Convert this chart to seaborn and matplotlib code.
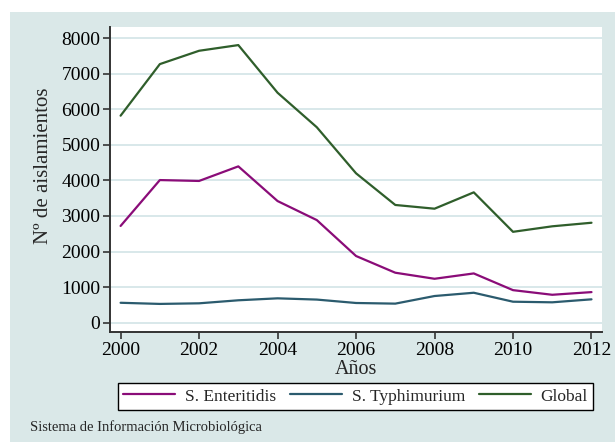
import matplotlib
matplotlib.use("Agg")
import matplotlib.pyplot as plt
import seaborn as sns
import pandas as pd
from matplotlib.patches import Rectangle
from matplotlib.lines import Line2D

years = [2000, 2001, 2002, 2003, 2004, 2005, 2006, 2007, 2008, 2009, 2010, 2011, 2012]
enteritidis = [2720, 4010, 3985, 4395, 3420, 2885, 1875, 1405, 1235, 1385, 915, 785, 860]
typhimurium = [560, 528, 545, 630, 685, 650, 554, 536, 750, 842, 590, 573, 657]
global_ = [5820, 7270, 7645, 7805, 6465, 5495, 4200, 3310, 3205, 3665, 2555, 2710, 2810]
series_names = ["S. Enteritidis", "S. Typhimurium", "Global"]
colors = ["#8A0C78", "#2B5B6E", "#2F5E2B"]
yticks = [0, 1000, 2000, 3000, 4000, 5000, 6000, 7000, 8000]
xticks = [2000, 2002, 2004, 2006, 2008, 2010, 2012]

df = pd.DataFrame({
    "year": years * 3,
    "value": enteritidis + typhimurium + global_,
    "serie": [series_names[0]] * 13 + [series_names[1]] * 13 + [series_names[2]] * 13,
})

sns.set_style("white")
plt.rcParams["font.family"] = ["Liberation Serif", "DejaVu Serif"]

W, H = 615, 447
fig = plt.figure(figsize=(W / 100, H / 100), dpi=100, facecolor="white")
panel = Rectangle((10 / W, 1 - 442 / H), (W - 10) / W, (442 - 12) / H,
                  transform=fig.transFigure, facecolor="#DAE8E8",
                  edgecolor="none", zorder=-10)
fig.patches.append(panel)

ax_left, ax_right, ax_top, ax_bot = 110, 601.7, 27.3, 332.3
ax = fig.add_axes([ax_left / W, 1 - ax_bot / H, (ax_right - ax_left) / W, (ax_bot - ax_top) / H])
ax.set_zorder(1)
ax.set_facecolor("white")

sns.lineplot(data=df, x="year", y="value", hue="serie", hue_order=series_names,
             palette=colors, linewidth=1.6, ax=ax, legend=False)

ax.set_xlim(1999.73, 2012.26)
ax.set_ylim(-270, 8305)
ax.set_xticks(xticks)
ax.set_yticks(yticks)
ax.set_xticklabels([str(x) for x in xticks], fontsize=14)
ax.set_yticklabels([str(y) for y in yticks], fontsize=14)
ax.yaxis.grid(True, color="#D5E6E8", linewidth=1.3)
ax.xaxis.grid(False)
ax.set_axisbelow(True)
for s in ["top", "right"]:
    ax.spines[s].set_visible(False)
for s in ["left", "bottom"]:
    ax.spines[s].set_color("#333333")
    ax.spines[s].set_linewidth(1.4)
ax.tick_params(axis="both", direction="out", length=5, width=1.2, color="#333333",
               labelcolor="black")
ax.tick_params(axis="x", bottom=True, pad=2)
ax.tick_params(axis="y", left=True, pad=2)
ax.set_xlabel("Años", fontsize=14.5)
ax.xaxis.set_label_coords(((2006 - 1999.73) / (2012.26 - 1999.73)),
                          (ax_bot - 360.5) / (ax_bot - ax_top))
ax.set_ylabel("Nº de aislamientos", fontsize=15)
ax.yaxis.set_label_coords((53 - ax_left) / (ax_right - ax_left),
                          (ax_bot - 166) / (ax_bot - ax_top))

handles = [Line2D([0], [0], color=c, linewidth=1.6) for c in colors]
leg = fig.legend(handles, series_names, ncol=3, loc="center",
                 bbox_to_anchor=((116 + 595) / 2 / W, 1 - 396.5 / H),
                 fontsize=12.5, frameon=True, fancybox=False, handlelength=3.0,
                 columnspacing=0.8, handletextpad=0.55, borderpad=0.3,
                 borderaxespad=0)
leg.get_frame().set_edgecolor("black")
leg.get_frame().set_linewidth(1.0)
leg.get_frame().set_facecolor("white")
leg.get_frame().set_alpha(1.0)

fig.text(30 / W, 1 - 427 / H, "Sistema de Información Microbiológica",
         fontsize=10.5, va="center", ha="left")

fig.savefig("out.png", dpi=100, facecolor="white")
